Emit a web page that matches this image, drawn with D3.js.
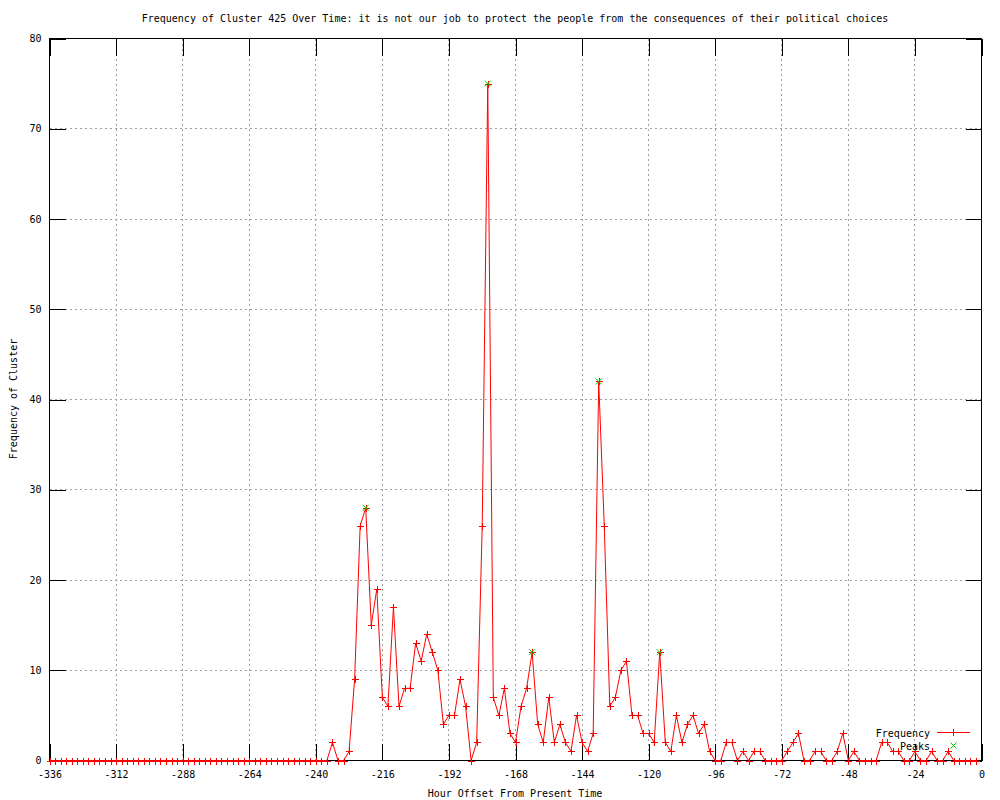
<!DOCTYPE html>
<html>
<head>
<meta charset="utf-8">
<script src="https://cdn.jsdelivr.net/npm/d3@7"></script>
<style>
  body { margin: 0; background: #fff; }
  text { font-family: "DejaVu Sans Mono", monospace; font-size: 10px; fill: #000; }
</style>
</head>
<body>
<svg width="1000" height="800"></svg>
<script>
// hour offsets (2 hour bins)
var hours = [-336,-334,-332,-330,-328,-326,-324,-322,-320,-318,-316,-314,-312,-310,-308,-306,-304,-302,-300,-298,
  -296,-294,-292,-290,-288,-286,-284,-282,-280,-278,-276,-274,-272,-270,-268,-266,-264,-262,-260,-258,
  -256,-254,-252,-250,-248,-246,-244,-242,-240,-238,-236,-234,-232,-230,-228,-226,-224,-222,-220,-218,
  -216,-214,-212,-210,-208,-206,-204,-202,-200,-198,-196,-194,-192,-190,-188,-186,-184,-182,-180,-178,
  -176,-174,-172,-170,-168,-166,-164,-162,-160,-158,-156,-154,-152,-150,-148,-146,-144,-142,-140,-138,
  -136,-134,-132,-130,-128,-126,-124,-122,-120,-118,-116,-114,-112,-110,-108,-106,-104,-102,-100,-98,
  -96,-94,-92,-90,-88,-86,-84,-82,-80,-78,-76,-74,-72,-70,-68,-66,-64,-62,-60,-58,
  -56,-54,-52,-50,-48,-46,-44,-42,-40,-38,-36,-34,-32,-30,-28,-26,-24,-22,-20,-18,
  -16,-14,-12,-10,-8,-6,-4,-2];

var frequency = [0,0,0,0,0,0,0,0,0,0,0,0,0,0,0,0,0,0,0,0,
  0,0,0,0,0,0,0,0,0,0,0,0,0,0,0,0,0,0,0,0,
  0,0,0,0,0,0,0,0,0,0,0,2,0,0,1,9,26,28,15,19,
  7,6,17,6,8,8,13,11,14,12,10,4,5,5,9,6,0,2,26,75,
  7,5,8,3,2,6,8,12,4,2,7,2,4,2,1,5,2,1,3,42,
  26,6,7,10,11,5,5,3,3,2,12,2,1,5,2,4,5,3,4,1,
  0,0,2,2,0,1,0,1,1,0,0,0,0,1,2,3,0,0,1,1,
  0,0,1,3,0,1,0,0,0,0,2,2,1,1,0,0,1,0,0,1,
  0,0,1,0,0,0,0,0];

var peakHours = [-222, -178, -162, -138, -116];
var peakValues = [28, 75, 12, 42, 12];

var xTicks = [-336,-312,-288,-264,-240,-216,-192,-168,-144,-120,-96,-72,-48,-24,0];
var yTicks = [0,10,20,30,40,50,60,70,80];

var svg = d3.select("svg"),
    pLeft = 49.5, pRight = 981.5, pTop = 38.5, pBottom = 760.5;

var x = d3.scaleLinear().domain([-336, 0]).range([pLeft, pRight]);
var y = d3.scaleLinear().domain([0, 80]).range([pBottom, pTop]);

svg.append("rect").attr("width", 1000).attr("height", 800).attr("fill", "#fff");

// grid
var grid = svg.append("g").attr("stroke", "#a0a0a0").attr("stroke-dasharray", "2,3")
    .attr("shape-rendering", "crispEdges");
grid.selectAll(".gx").data(xTicks.slice(1, -1)).enter().append("line")
    .attr("x1", d => x(d)).attr("x2", d => x(d)).attr("y1", pTop).attr("y2", pBottom);
grid.selectAll(".gy").data(yTicks.slice(1, -1)).enter().append("line")
    .attr("y1", d => y(d)).attr("y2", d => y(d)).attr("x1", pLeft).attr("x2", pRight);

// axes
function style(g) {
  g.select(".domain").remove();
  g.selectAll("line").attr("stroke", "#000").attr("shape-rendering", "crispEdges");
  g.selectAll("text").attr("fill", "#000").style("font-family", "DejaVu Sans Mono").style("font-size", "10px");
}
svg.append("g").attr("transform", "translate(0," + pBottom + ")")
  .call(d3.axisBottom(x).tickValues(xTicks).tickSize(-17).tickPadding(10).tickFormat(d => d))
  .call(style);
svg.append("g").attr("transform", "translate(0," + pTop + ")")
  .call(d3.axisTop(x).tickValues(xTicks).tickSize(-17).tickFormat(""))
  .call(style);
svg.append("g").attr("transform", "translate(" + pLeft + ",0)")
  .call(d3.axisLeft(y).tickValues(yTicks).tickSize(-16).tickPadding(8))
  .call(style);
svg.append("g").attr("transform", "translate(" + pRight + ",0)")
  .call(d3.axisRight(y).tickValues(yTicks).tickSize(-16).tickFormat(""))
  .call(style);

// border
svg.append("rect").attr("x", pLeft).attr("y", pTop).attr("width", pRight - pLeft).attr("height", pBottom - pTop)
  .attr("fill", "none").attr("stroke", "#000").attr("shape-rendering", "crispEdges");

var data = hours.map((h, i) => ({h: h, v: frequency[i]}));
var line = d3.line().x(d => x(d.h)).y(d => y(d.v));

svg.append("path").datum(data).attr("d", line)
  .attr("fill", "none").attr("stroke", "#f00").attr("stroke-width", 1);

function plus(sel, cx, cy, color) {
  sel.append("path").attr("d", "M" + (cx - 3.5) + "," + cy + "H" + (cx + 3.5) + "M" + cx + "," + (cy - 3.5) + "V" + (cy + 3.5))
    .attr("stroke", color).attr("fill", "none").attr("shape-rendering", "crispEdges");
}
function cross(sel, cx, cy, color) {
  sel.append("path").attr("d", "M" + (cx - 3) + "," + (cy - 3) + "L" + (cx + 3) + "," + (cy + 3) +
      "M" + (cx - 3) + "," + (cy + 3) + "L" + (cx + 3) + "," + (cy - 3))
    .attr("stroke", color).attr("fill", "none");
}

var marks = svg.append("g");
data.forEach(d => plus(marks, Math.round(x(d.h)) + 0.5, Math.round(y(d.v)) + 0.5, "#f00"));
var pk = svg.append("g");
peakHours.forEach((h, i) => cross(pk, x(h), y(peakValues[i]), "#0c0"));

// legend
svg.append("text").attr("x", 930).attr("y", 733).attr("dy", "0.35em").attr("text-anchor", "end").text("Frequency");
svg.append("line").attr("x1", 937).attr("x2", 970).attr("y1", 732.5).attr("y2", 732.5)
  .attr("stroke", "#f00").attr("shape-rendering", "crispEdges");
plus(svg, 953.5, 732.5, "#f00");
svg.append("text").attr("x", 930).attr("y", 746).attr("dy", "0.35em").attr("text-anchor", "end").text("Peaks");
cross(svg, 953.5, 745.5, "#0c0");

// titles
svg.append("text").attr("x", 515).attr("y", 18).attr("dy", "0.35em").attr("text-anchor", "middle")
  .text("Frequency of Cluster 425 Over Time: it is not our job to protect the people from the consequences of their political choices");
svg.append("text").attr("x", 515).attr("y", 793).attr("dy", "0.35em").attr("text-anchor", "middle")
  .text("Hour Offset From Present Time");
svg.append("text").attr("transform", "translate(13,399) rotate(-90)").attr("dy", "0.35em").attr("text-anchor", "middle")
  .text("Frequency of Cluster");
</script>
</body>
</html>
